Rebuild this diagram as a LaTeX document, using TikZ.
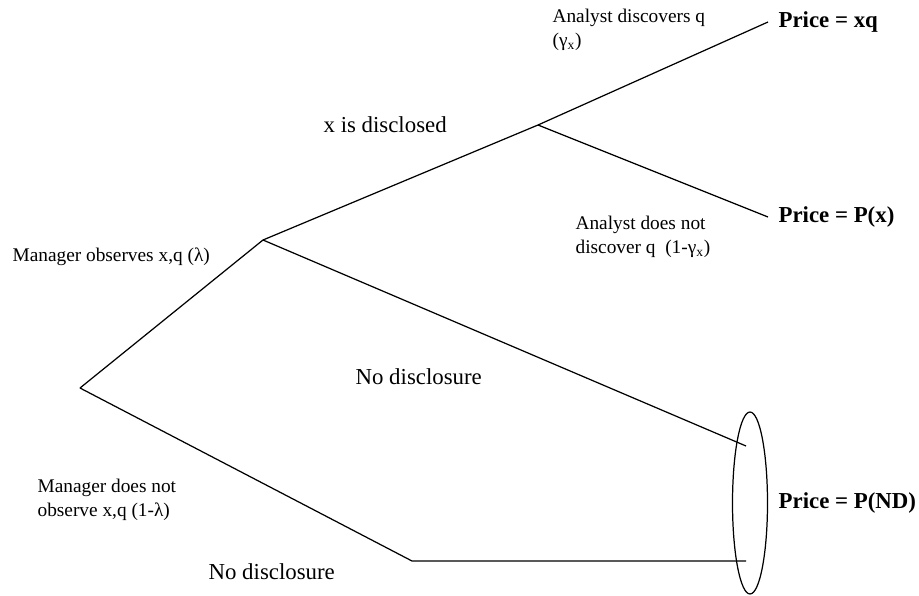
\documentclass[tikz,border=0pt]{standalone}
\usepackage{fontspec}
\setmainfont{Liberation Serif}
\usetikzlibrary{positioning,shapes.geometric}

\begin{document}
\begin{tikzpicture}[x=0.02cm, y=-0.02cm, line width=0.7pt,
    lbl/.style={inner sep=0pt, anchor=west, align=left, font=\fontsize{11}{13.5}\selectfont},
    branch/.style={inner sep=0pt, anchor=west, font=\fontsize{13}{15}\selectfont},
    price/.style={inner sep=0pt, font=\fontsize{13}{15}\selectfont\bfseries}]
\useasboundingbox (0,0) rectangle (919,595);

% tree vertices
\coordinate (root) at (80,388);
\coordinate (obs) at (263,240);
\coordinate (split) at (538,125);
\coordinate (xq) at (768,22);
\coordinate (px) at (768,217);
\coordinate (nd) at (746,446);
\coordinate (corner) at (412,561);
\coordinate (ndlow) at (746,561);

\draw (root) -- (obs) -- (split) -- (xq);
\draw (split) -- (px);
\draw (obs) -- (nd);
\draw (root) -- (corner) -- (ndlow);

\node[draw, ellipse, inner sep=0pt, minimum width=0.7cm, minimum height=3.64cm] (pool) at (750,503) {};

% outcomes
\node[price, right=2mm of xq, anchor=west] (pxq) {Price = xq};
\node[price, right=2mm of px, anchor=west] (ppx) {Price = P(x)};
\node[price, right=2mm of pool] (pnd) {Price = P(ND)};

% labels
\node[lbl] (disc) at (552,30) {Analyst discovers q\\(γ\textsubscript{x})};
\node[lbl] (nodisc) at (575,237) {Analyst does not\\discover q~~(1-γ\textsubscript{x})};
\node[lbl] (obsl) at (12,257) {Manager observes x,q (λ)};
\node[lbl] (notobs) at (37,500) {Manager does not\\observe x,q (1-λ)};
\node[branch] (xdisc) at (323,125) {x is disclosed};
\node[branch] (nd1) at (355,377) {No disclosure};
\node[branch] (nd2) at (208,572) {No disclosure};
\end{tikzpicture}
\end{document}
